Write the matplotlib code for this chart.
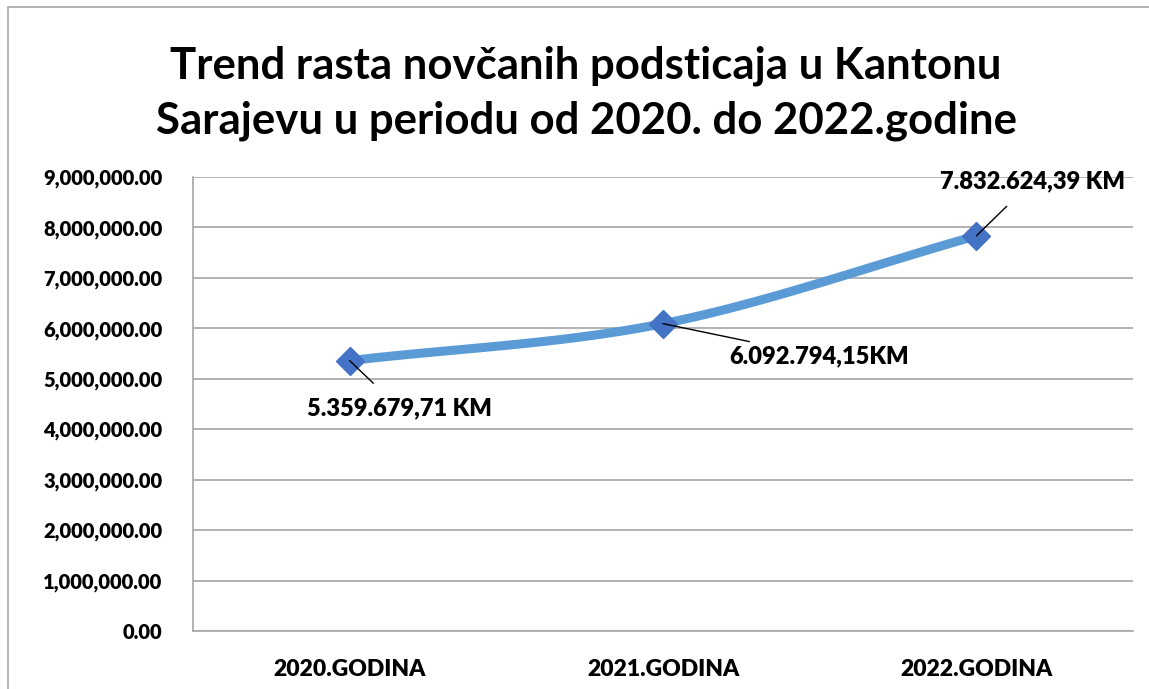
import matplotlib.pyplot as plt
import numpy as np
from matplotlib.patches import Rectangle
from matplotlib.ticker import FuncFormatter, MultipleLocator

years = ["2020.GODINA", "2021.GODINA", "2022.GODINA"]
values = [5359679.71, 6092794.15, 7832624.39]
value_labels = ["5.359.679,71 KM", "6.092.794,15KM", "7.832.624,39 KM"]
title = "Trend rasta novčanih podsticaja u Kantonu\nSarajevu u periodu od 2020. do 2022.godine"

plt.rcParams["font.family"] = ["Lato", "DejaVu Sans"]
label_weight = "heavy"


def smooth(x, y, n=40):
    # Catmull-Rom style curve through the points (like Excel's smoothed line)
    x = np.asarray(x, float)
    y = np.asarray(y, float)
    px = np.concatenate([[2 * x[0] - x[1]], x, [2 * x[-1] - x[-2]]])
    py = np.concatenate([[2 * y[0] - y[1]], y, [2 * y[-1] - y[-2]]])
    xs, ys = [], []
    for i in range(1, len(px) - 2):
        t = np.linspace(0, 1, n)
        for p, out in ((px, xs), (py, ys)):
            p0, p1, p2, p3 = p[i - 1], p[i], p[i + 1], p[i + 2]
            out.extend(0.5 * ((2 * p1) + (-p0 + p2) * t
                              + (2 * p0 - 5 * p1 + 4 * p2 - p3) * t ** 2
                              + (-p0 + 3 * p1 - 3 * p2 + p3) * t ** 3))
    return np.array(xs), np.array(ys)


fig = plt.figure(figsize=(11.49, 6.89), dpi=100)
fig.patches.append(Rectangle((8 / 1149, -0.01), 1.0, 1 - 7 / 689 + 0.01,
                             transform=fig.transFigure, fill=False,
                             edgecolor="#a6a6a6", linewidth=1.2))
ax = fig.add_axes([193 / 1149, 1 - 631 / 689, 940 / 1149, 454 / 689])

xpos = np.arange(len(years))
sx, sy = smooth(xpos, values)
ax.plot(sx, sy, color="#5b9bd5", linewidth=6.5, solid_capstyle="round", zorder=3)
ax.plot(xpos, values, linestyle="none", marker="D", markersize=14,
        color="#4472c4", zorder=4)

ax.set_xlim(-0.5, 2.5)
ax.set_ylim(0, 9000000)
ax.yaxis.set_major_locator(MultipleLocator(1000000))
ax.yaxis.set_major_formatter(FuncFormatter(lambda v, p: f"{v:,.2f}"))
ax.set_xticks(xpos)
ax.set_xticklabels(years)
ax.grid(axis="y", color="#a6a6a6", linewidth=1.2)
ax.set_axisbelow(True)
for s in ("top", "right"):
    ax.spines[s].set_visible(False)
for s in ("left", "bottom"):
    ax.spines[s].set_color("#a6a6a6")
    ax.spines[s].set_linewidth(1.2)
ax.tick_params(axis="y", length=0, labelsize=14.5, pad=22)
ax.tick_params(axis="x", length=0, labelsize=16.5, pad=20)
for lab in ax.get_xticklabels() + ax.get_yticklabels():
    lab.set_fontweight(label_weight)

# data labels with leader lines
offsets = [(0.16, -950000, "center", "center"),
           (0.21, -640000, "left", "center"),
           (0.18, 1090000, "center", "center")]
for i, (dx, dy, ha, va) in enumerate(offsets):
    ax.annotate(value_labels[i], xy=(xpos[i], values[i]),
                xytext=(xpos[i] + dx, values[i] + dy), fontsize=17,
                fontweight=label_weight, ha=ha, va=va, zorder=5,
                arrowprops=dict(arrowstyle="-", color="black", linewidth=1,
                                shrinkA=12 if i != 1 else 2, shrinkB=0))

fig.text(586 / 1149, 1 - 93 / 689, title, ha="center", va="center",
         fontsize=31.5, fontweight="bold", linespacing=1.45)

fig.savefig("out.png", dpi=100)
